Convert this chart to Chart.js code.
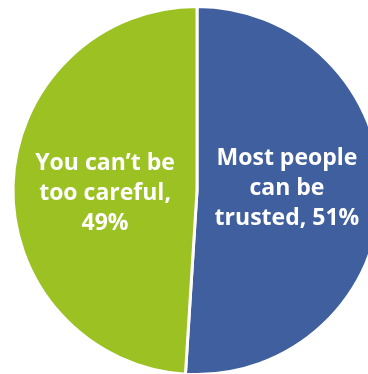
<!DOCTYPE html>
<html>
<head>
<meta charset="utf-8">
<script src="https://cdn.jsdelivr.net/npm/chart.js@4/dist/chart.umd.min.js"></script>
<style>
  html, body { margin: 0; padding: 0; background: #fff; overflow: hidden; }
  #wrap { position: absolute; left: 0; top: 0; width: 394px; height: 381px; }
</style>
</head>
<body>
<div id="wrap"><canvas id="myChart"></canvas></div>
<script>
// survey answers, in drawing order (clockwise from the top)
var labels = [
    ['Most people', 'can be', 'trusted, 51%'],
    ['You can\u2019t be', 'too careful,', '49%']
];
var shares = [51, 49];
var colors = ['#405F9E', '#9BC123'];

// writes the multi-line label inside each slice
var sliceLabels = {
    id: 'sliceLabels',
    afterDatasetsDraw: function (chart, args, opts) {
        var ctx = chart.ctx;
        var meta = chart.getDatasetMeta(0);
        ctx.save();
        ctx.fillStyle = '#ffffff';
        ctx.font = 'bold 23px "Open Sans"';
        ctx.textAlign = 'center';
        ctx.textBaseline = 'alphabetic';
        meta.data.forEach(function (arc, i) {
            var p = arc.tooltipPosition();
            var shift = opts.shift[i];
            var lines = chart.data.labels[i];
            lines.forEach(function (line, j) {
                var y = p.y + shift[1] + (j - (lines.length - 1) / 2) * opts.lineHeight;
                ctx.fillText(line, p.x + shift[0], y);
            });
        });
        ctx.restore();
    }
};

var ctx = document.getElementById('myChart').getContext('2d');
var myChart = new Chart(ctx, {
    type: 'pie',
    data: {
        labels: labels,
        datasets: [{
            data: shares,
            backgroundColor: colors,
            borderColor: '#ffffff',
            borderWidth: 3
        }]
    },
    options: {
        responsive: true,
        maintainAspectRatio: false,
        animation: false,
        layout: { padding: { top: 5, bottom: 5 } },
        plugins: {
            legend: { display: false },
            tooltip: { enabled: false },
            sliceLabels: { lineHeight: 30, shift: [[-2, 1.6], [0, 12.4]] }
        }
    },
    plugins: [sliceLabels]
});
</script>
</body>
</html>
